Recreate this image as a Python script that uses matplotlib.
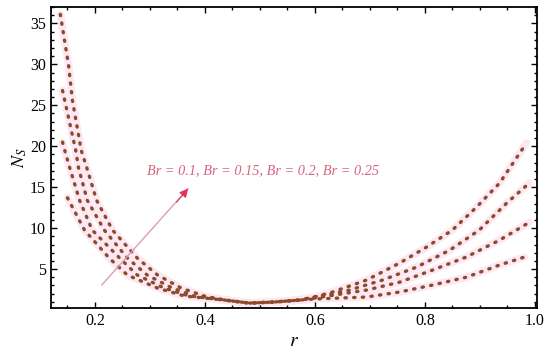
import numpy as np
import matplotlib
matplotlib.use('Agg')
import matplotlib.pyplot as plt
from matplotlib.ticker import MultipleLocator

# #############################################################################
# DATA (r, Ns) FOR EACH BRINKMAN NUMBER

r_br025 = [0.137, 0.152, 0.159, 0.175, 0.185, 0.203, 0.232, 0.277, 0.314, 0.357, 0.399,
           0.436, 0.481, 0.526, 0.572, 0.599, 0.632, 0.694, 0.754, 0.803, 0.850, 0.894, 0.936, 0.985]
ns_br025 = [36.1, 29.9, 25.6, 19.5, 17.4, 13.4, 9.76, 6.34, 4.27, 2.68, 1.71,
            1.22, 0.85, 0.98, 1.22, 1.59, 2.2, 3.66, 5.73, 7.68, 9.76, 12.56, 15.5, 20.4]

r_br02 = [0.141, 0.145, 0.165, 0.170, 0.186, 0.217, 0.259, 0.295, 0.341, 0.381,
          0.436, 0.481, 0.526, 0.572, 0.599, 0.663, 0.723, 0.785, 0.845, 0.899, 0.948, 0.990]
ns_br02 = [26.8, 25.6, 19.5, 17.4, 13.4, 9.76, 6.34, 4.27, 2.68, 1.71,
           1.22, 0.85, 0.98, 1.22, 1.59, 2.44, 3.66, 5.24, 7.3, 9.76, 13.0, 15.5]

r_br015 = [0.141, 0.145, 0.154, 0.172, 0.195, 0.245, 0.277, 0.326, 0.372,
           0.436, 0.481, 0.526, 0.572, 0.599, 0.694, 0.754, 0.814, 0.875, 0.936, 0.990]
ns_br015 = [20.5, 19.5, 17.4, 13.4, 9.76, 6.34, 4.27, 2.68, 1.71,
            1.22, 0.85, 0.98, 1.22, 1.45, 2.44, 3.4, 4.88, 6.46, 8.54, 10.7]

r_br01 = [0.150, 0.181, 0.226, 0.259, 0.314, 0.363,
          0.436, 0.481, 0.526, 0.572, 0.599, 0.694, 0.754, 0.814, 0.875, 0.936, 0.981]
ns_br01 = [13.7, 9.76, 6.34, 4.27, 2.68, 1.71,
           1.22, 0.85, 0.98, 1.22, 1.35, 1.59, 2.2, 3.05, 4.0, 5.5, 6.46]

curves = [(r_br01, ns_br01), (r_br015, ns_br015), (r_br02, ns_br02), (r_br025, ns_br025)]

label_text = 'Br = 0.1, Br = 0.15, Br = 0.2, Br = 0.25'
x_ticks = [0.2, 0.4, 0.6, 0.8, 1.0]
y_ticks = [5, 10, 15, 20, 25, 30, 35]


def main():
    plt.rcParams['font.family'] = ['Liberation Serif', 'DejaVu Serif']
    plt.rcParams['mathtext.fontset'] = 'stix'

    fig = plt.figure(figsize=(5.5, 3.61), dpi=100)
    ax = fig.add_axes([0.0927, 0.1468, 0.8836, 0.8338])

    # faint pink halo under every curve, then the dotted line itself
    for r, ns in curves:
        ax.plot(r, ns, color='#fce8f2', lw=5.5, solid_capstyle='round', zorder=1)
    for r, ns in curves:
        ax.plot(r, ns, color='#8b4a2a', lw=2.4, linestyle=(0, (0.4, 2.2)),
                dash_capstyle='round', zorder=3)

    # arrow : pale shaft + vivid head
    ax.annotate('', xy=(0.373, 15.1), xytext=(0.209, 2.8),
                arrowprops=dict(arrowstyle='-', color='#dba0ae', lw=1.0), zorder=4)
    ax.annotate('', xy=(0.373, 15.1), xytext=(0.345, 12.9),
                arrowprops=dict(arrowstyle='-|>', color='#e0345a', lw=0.8,
                                mutation_scale=13), zorder=5)

    ax.text(0.295, 17.0, label_text, fontsize=10.3, style='italic',
            color='#d8647e', va='center', ha='left', zorder=6)

    ax.set_xlim(0.12, 1.004)
    ax.set_ylim(0.25, 37.0)
    ax.set_xticks(x_ticks)
    ax.set_yticks(y_ticks)
    ax.set_xticklabels(['%.1f' % t for t in x_ticks])
    ax.set_yticklabels([str(t) for t in y_ticks])
    ax.xaxis.set_minor_locator(MultipleLocator(0.05))
    ax.yaxis.set_minor_locator(MultipleLocator(1))
    ax.tick_params(which='both', direction='in', top=True, right=True,
                   labelsize=11.5, colors='black', width=1.0)
    ax.tick_params(which='major', length=4)
    ax.tick_params(which='minor', length=2)
    for s in ax.spines.values():
        s.set_linewidth(1.3)

    ax.set_xlabel('$r$', fontsize=14, labelpad=3)
    ax.set_ylabel('$N_S$', fontsize=13, labelpad=1)

    fig.savefig('out.png', dpi=100)


if __name__ == '__main__':
    main()
